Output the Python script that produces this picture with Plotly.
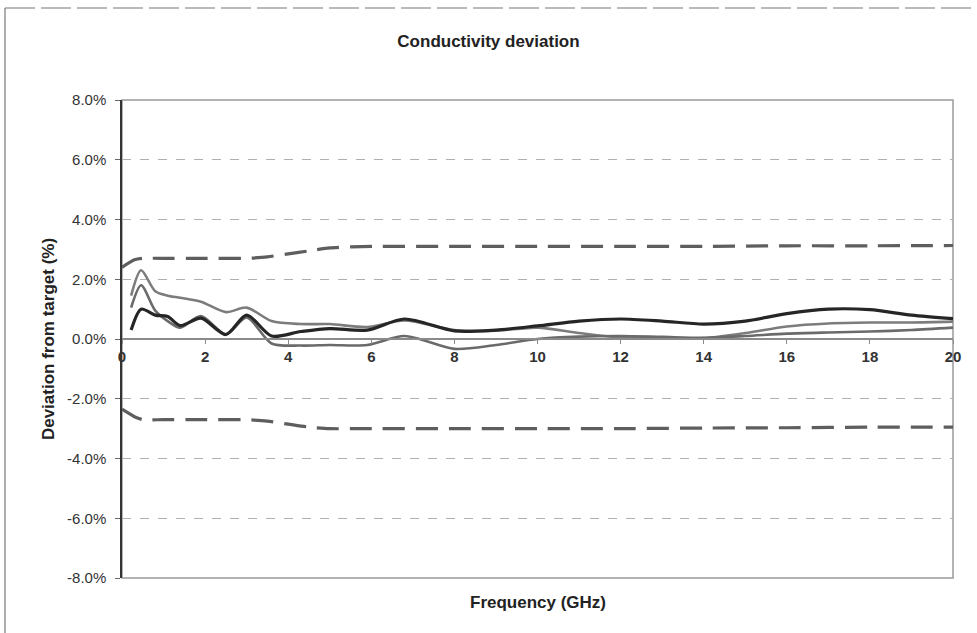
import plotly.graph_objects as go

# ---- data ----
freq = [0.22, 0.46, 0.8, 1.1, 1.4, 1.9, 2.5, 3.0, 3.6, 4.3, 5.0, 5.9, 6.8, 8, 9, 10,
        11, 12, 13, 14, 15, 16, 17, 18, 19, 20]
dev_a = [1.45, 2.3, 1.6, 1.45, 1.38, 1.25, 0.9, 1.05, 0.6, 0.5, 0.5, 0.4, 0.62, 0.3,
         0.28, 0.38, 0.2, 0.05, 0.02, 0.03, 0.2, 0.42, 0.52, 0.55, 0.55, 0.58]
dev_b = [1.05, 1.8, 0.95, 0.6, 0.38, 0.77, 0.16, 0.72, -0.15, -0.22, -0.2, -0.2, 0.1,
         -0.33, -0.2, 0.0, 0.08, 0.1, 0.07, 0.04, 0.1, 0.18, 0.22, 0.25, 0.3, 0.38]
dev_c = [0.3, 1.0, 0.8, 0.75, 0.45, 0.7, 0.15, 0.8, 0.1, 0.25, 0.35, 0.3, 0.67, 0.27,
         0.3, 0.44, 0.6, 0.67, 0.6, 0.5, 0.6, 0.85, 1.0, 0.98, 0.8, 0.68]

lim_freq = [0, 0.3, 0.5, 1, 2, 3, 3.5, 4, 4.5, 5, 6, 8, 10, 12, 14, 16, 18, 20]
lim_upper = [2.4, 2.65, 2.7, 2.7, 2.7, 2.7, 2.75, 2.85, 2.95, 3.05, 3.1, 3.1, 3.1, 3.1,
             3.1, 3.12, 3.12, 3.13]
lim_lower = [-2.35, -2.6, -2.7, -2.7, -2.7, -2.7, -2.75, -2.85, -2.95, -3.0, -3.0, -3.0,
             -3.0, -3.0, -2.98, -2.97, -2.95, -2.95]

y_ticks = [8, 6, 4, 2, 0, -2, -4, -6, -8]
y_tick_text = ["8.0%", "6.0%", "4.0%", "2.0%", "0.0%", "-2.0%", "-4.0%", "-6.0%", "-8.0%"]
x_ticks = [0, 2, 4, 6, 8, 10, 12, 14, 16, 18, 20]

FONT = "Liberation Sans, Arial, sans-serif"

fig = go.Figure()
for lv in (lim_upper, lim_lower):
    fig.add_trace(go.Scatter(x=lim_freq, y=lv, mode="lines",
                             line=dict(color="#5e5e5e", width=3.2, dash="22px,11px",
                                       shape="spline", smoothing=0.6),
                             showlegend=False, hoverinfo="skip"))
fig.add_trace(go.Scatter(x=freq, y=dev_a, mode="lines",
                         line=dict(color="#7c7c7c", width=2.6, shape="spline", smoothing=0.8),
                         showlegend=False))
fig.add_trace(go.Scatter(x=freq, y=dev_b, mode="lines",
                         line=dict(color="#6a6a6a", width=2.6, shape="spline", smoothing=0.8),
                         showlegend=False))
fig.add_trace(go.Scatter(x=freq, y=dev_c, mode="lines",
                         line=dict(color="#262626", width=3.2, shape="spline", smoothing=0.8),
                         showlegend=False))

fig.update_layout(
    width=977, height=633,
    margin=dict(l=122, r=24, t=100, b=55),
    paper_bgcolor="white", plot_bgcolor="white",
    font=dict(family=FONT, size=14, color="#222"),
    title=dict(text="<b>Conductivity deviation</b>", x=0.5, xanchor="center",
               y=1 - 41 / 633, yref="container", yanchor="middle",
               font=dict(size=17, color="#222")),
    xaxis=dict(range=[0, 20], tickvals=x_ticks, anchor="free", position=0.5,
               showline=True, linecolor="#8a8a8a", linewidth=1.5,
               ticks="outside", ticklen=4, tickcolor="#8a8a8a",
               showgrid=False, zeroline=False,
               tickfont=dict(size=15, color="#333", weight="bold")),
    yaxis=dict(range=[-8, 8], tickvals=y_ticks, ticktext=y_tick_text,
               showline=True, linecolor="#333", linewidth=1.5,
               ticks="outside", ticklen=5, tickcolor="#666", ticklabelstandoff=6,
               showgrid=True, gridcolor="#b0b0b0", griddash="dash", gridwidth=1,
               zeroline=False,
               tickfont=dict(size=15, color="#333"),
               title=dict(text="<b>Deviation from target (%)</b>", standoff=8,
                          font=dict(size=17, color="#222"))),
    annotations=[dict(text="<b>Frequency (GHz)</b>", xref="paper", yref="paper",
                      x=0.5, y=(578 - 602) / 478, xanchor="center", yanchor="middle",
                      showarrow=False, font=dict(size=17, color="#222"))],
    shapes=[
        dict(type="rect", xref="paper", yref="paper", x0=0, x1=1, y0=0, y1=1,
             line=dict(color="#9a9a9a", width=1.5), layer="below"),
        dict(type="line", xref="paper", yref="paper", x0=(5 - 122) / 831, x1=(5 - 122) / 831,
             y0=(578 - 8) / 478, y1=(578 - 640) / 478, line=dict(color="#777", width=1.2)),
        dict(type="line", xref="paper", yref="paper", x0=(5 - 122) / 831, x1=(977 - 122) / 831,
             y0=(578 - 8) / 478, y1=(578 - 8) / 478,
             line=dict(color="#777", width=1.2, dash="30px,6px")),
    ],
)

fig.write_html("out.html", config={"displayModeBar": False},
               post_script="document.body.style.margin='0';")
